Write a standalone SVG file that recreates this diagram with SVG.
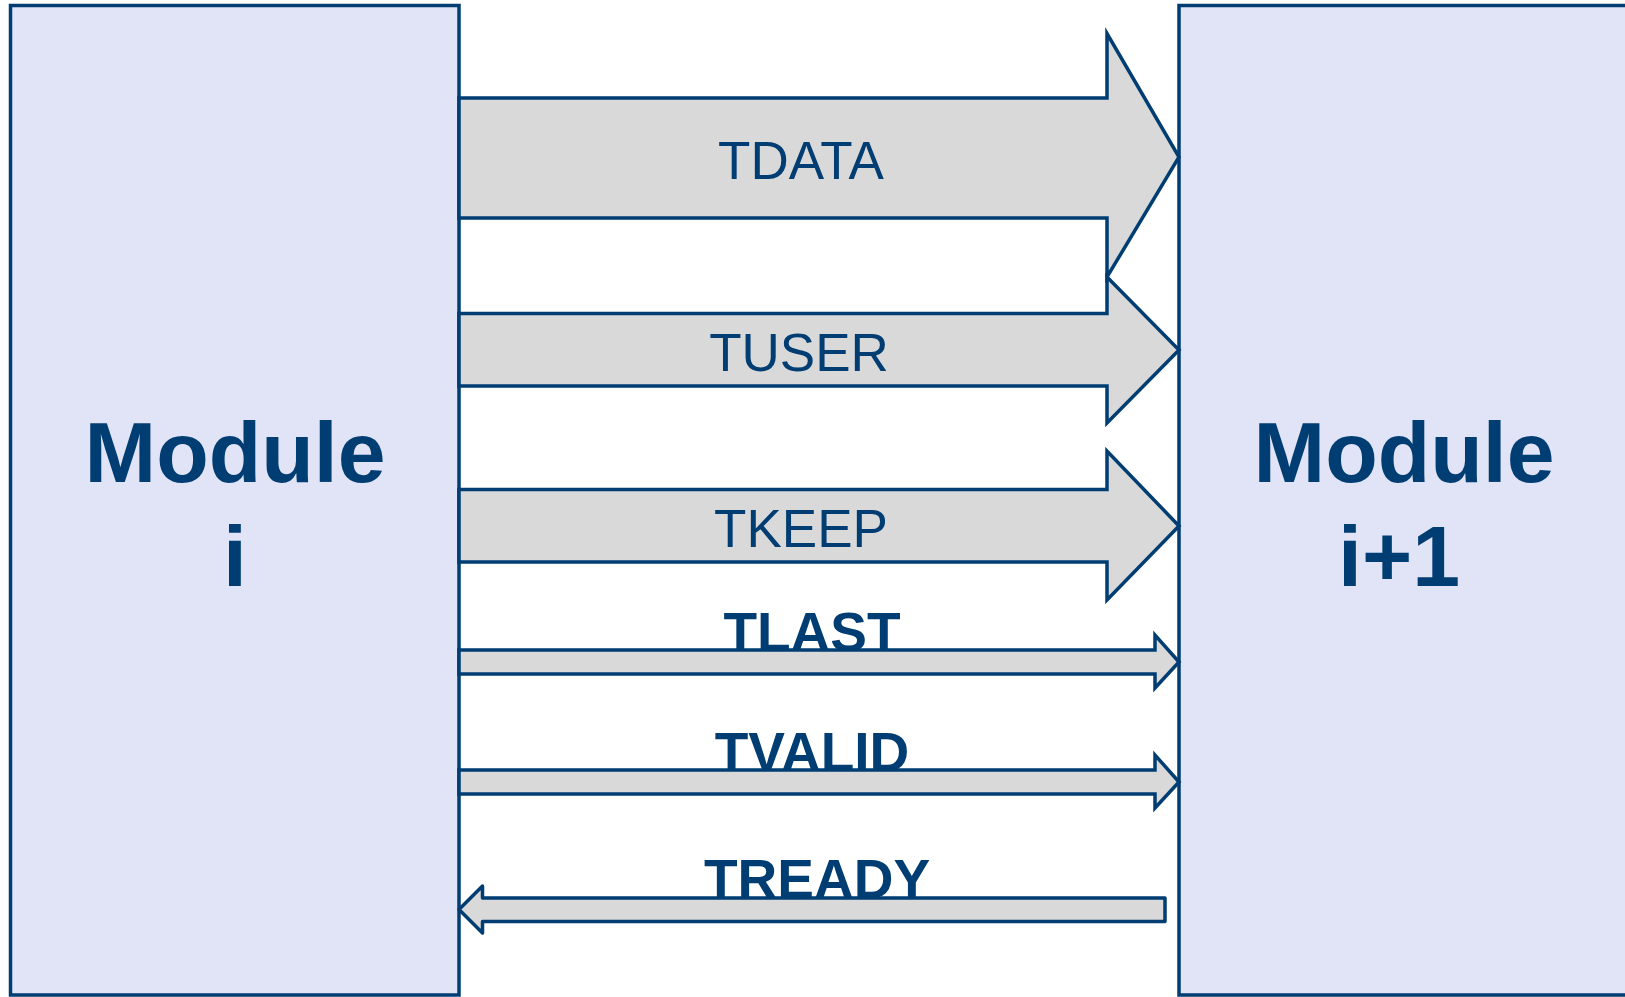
<svg xmlns="http://www.w3.org/2000/svg" width="1625" height="997" viewBox="0 0 1625 997">
  <style>
    .module { fill: #e1e3f6; stroke: #003d72; stroke-width: 3.5; }
    .bus { fill: #d9d9d9; stroke: #003d72; stroke-width: 3.5; stroke-linejoin: miter; }
    .wire { fill: #d9d9d9; stroke: #003d72; stroke-width: 3.5; stroke-linejoin: round; }
    .title { font-family: "Liberation Sans", Arial, sans-serif; font-weight: bold; font-size: 86px; fill: #003d72; text-anchor: middle; }
    .busLabel { font-family: "Liberation Sans", Arial, sans-serif; font-size: 53px; fill: #003d72; text-anchor: middle; }
    .wireLabel { font-family: "Liberation Sans", Arial, sans-serif; font-weight: bold; font-size: 55px; fill: #003d72; text-anchor: middle; }
  </style>

  <rect width="1625" height="997" fill="#ffffff"/>

  <!-- source module -->
  <g id="module-i">
    <rect class="module" x="10.5" y="5.5" width="448.5" height="989.5"/>
    <text class="title" x="235" y="482">Module</text>
    <text class="title" x="235" y="586">i</text>
  </g>

  <!-- sink module -->
  <g id="module-i-plus-1">
    <rect class="module" x="1179" y="5.5" width="470" height="989.5"/>
    <text class="title" x="1404" y="482">Module</text>
    <text class="title" x="1399" y="586">i+1</text>
  </g>

  <!-- AXI-Stream signals between the modules -->
  <g id="connectors">
    <g id="tdata">
      <polygon class="bus" points="459,98 1107,98 1107,33.5 1179,157 1107,277 1107,218 459,218"/>
      <text class="busLabel" x="801" y="179">TDATA</text>
    </g>
    <g id="tuser">
      <polygon class="bus" points="459,313.5 1107,313.5 1107,277 1179,350 1107,423 1107,386 459,386"/>
      <text class="busLabel" x="799" y="371">TUSER</text>
    </g>
    <g id="tkeep">
      <polygon class="bus" points="459,489.5 1107,489.5 1107,451 1179,526 1107,600 1107,562 459,562"/>
      <text class="busLabel" x="801" y="547">TKEEP</text>
    </g>
    <g id="tlast">
      <text class="wireLabel" x="812" y="651">TLAST</text>
      <polygon class="bus" points="459,650 1155,650 1155,635 1179,662 1155,688 1155,674 459,674"/>
    </g>
    <g id="tvalid">
      <text class="wireLabel" x="812" y="771">TVALID</text>
      <polygon class="bus" points="459,770 1155,770 1155,755 1179,782 1155,808 1155,794 459,794"/>
    </g>
    <g id="tready">
      <text class="wireLabel" x="817" y="898">TREADY</text>
      <polygon class="wire" points="1165,898 482.5,898 482.5,886 459,909.5 482.5,933 482.5,921.5 1165,921.5"/>
    </g>
  </g>
</svg>
